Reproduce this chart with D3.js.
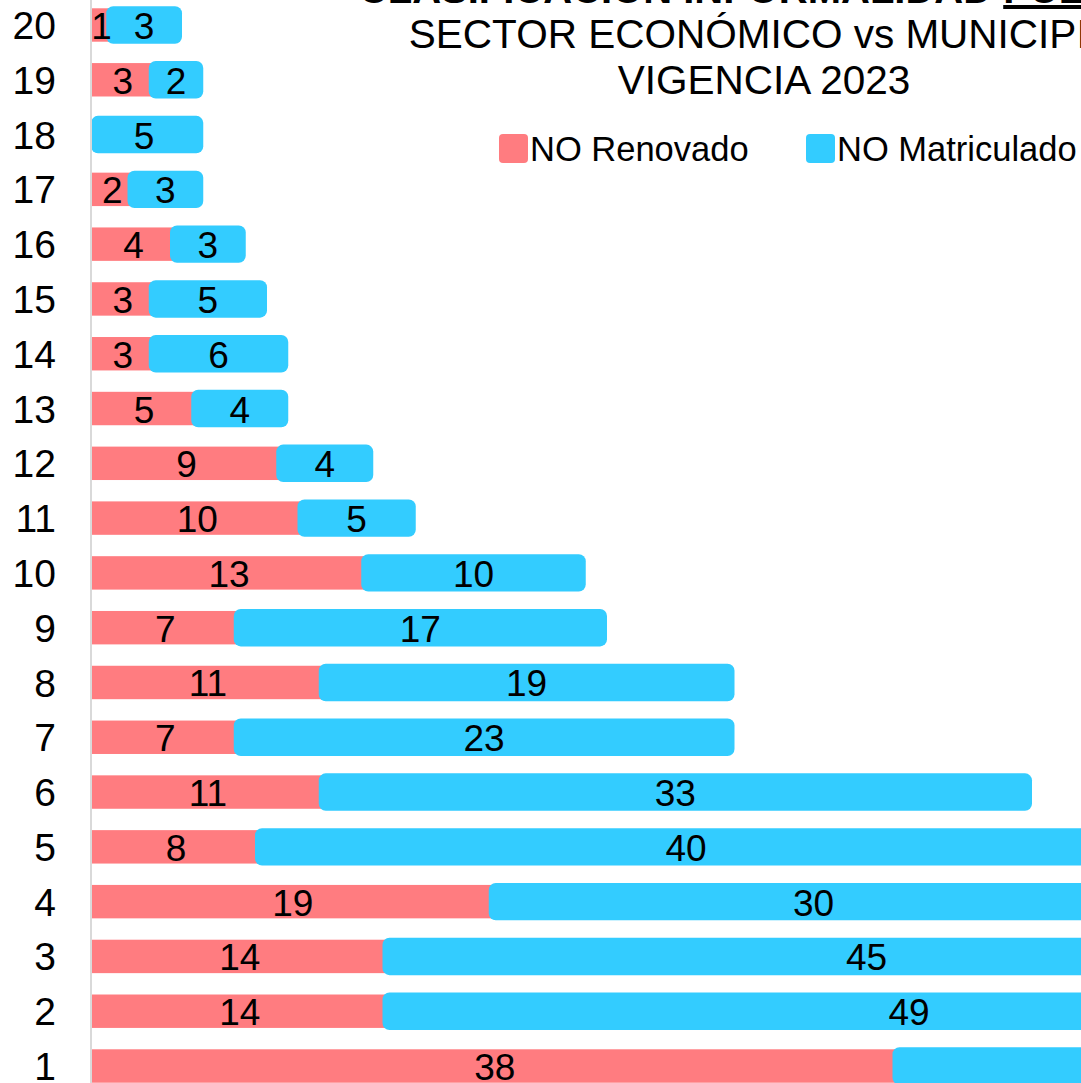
<!DOCTYPE html>
<html>
<head>
<meta charset="utf-8">
<script src="https://cdn.jsdelivr.net/npm/d3@7"></script>
<style>
  body { margin: 0; background: #ffffff; overflow: hidden; }
  svg { display: block; }
</style>
</head>
<body>
<div id="chart"></div>
<script>
// Data
var categories = ["20","19","18","17","16","15","14","13","12","11","10","9","8","7","6","5","4","3","2","1"];
var noRenovado = [1, 3, 0, 2, 4, 3, 3, 5, 9, 10, 13, 7, 11, 7, 11, 8, 19, 14, 14, 38];
var noMatriculado = [3, 2, 5, 3, 3, 5, 6, 4, 4, 5, 10, 17, 19, 23, 33, 40, 30, 45, 49, 30];
var seriesNames = ["NO Renovado", "NO Matriculado"];
var titleLines = ["CLASIFICACIÓN INFORMALIDAD ", "SECTOR ECONÓMICO vs MUNICIPIO", "VIGENCIA 2023"];
var titleUnderlined = "PUERTO";

var colors = { red: '#ff7c80', blue: '#33ccff' };
var FONT = 'Liberation Sans, Arial, sans-serif';

var W = 1081, H = 1083;
var svg = d3.select('#chart').append('svg').attr('width', W).attr('height', H);

var rows = categories.map(function(c, i) {
    return { cat: c, r: noRenovado[i], b: noMatriculado[i] };
});

//------------------------------- SCALES ------------------------------------
var x = d3.scaleLinear().domain([0, 50]).range([91, 91 + 50 * 21.25]);
var y = d3.scaleBand().domain(categories).range([-2.4, 1093.4])
    .paddingInner(0.39).paddingOuter(0.195);

// -------------------- red bars --------------------------
svg.selectAll('rect.red').data(rows).enter()
    .append('rect').attr('class', 'red')
    .attr('x', x(0))
    .attr('y', d => y(d.cat))
    .attr('width', d => x(d.r) - x(0))
    .attr('height', y.bandwidth())
    .style('fill', colors.red);

// -------------------- blue bars (rounded) --------------------------
function blueStart(d) { return d.r > 0 ? x(d.r) - 6 : x(0); }
svg.selectAll('rect.blue').data(rows).enter()
    .append('rect').attr('class', 'blue')
    .attr('x', d => blueStart(d))
    .attr('y', d => y(d.cat) - 2)
    .attr('width', d => x(d.r + d.b) + 6 - blueStart(d))
    .attr('height', y.bandwidth() + 4)
    .attr('rx', 7)
    .style('fill', colors.blue);

// axis
var axis = svg.append('g').attr('transform', 'translate(' + x(0) + ',0)')
    .call(d3.axisLeft(y).tickSize(0).tickPadding(35));
axis.select('.domain').attr('stroke', '#d9d9d9').attr('stroke-width', 2)
    .attr('d', 'M0,0V' + H);
axis.selectAll('text').style('font-family', FONT)
    .style('font-size', '39px').attr('fill', '#000').attr('dy', '0.36em');

// value labels
svg.selectAll('text.lr').data(rows.filter(d => d.r > 0)).enter()
    .append('text').attr('class', 'lr')
    .attr('x', d => (x(0) + x(d.r)) / 2)
    .attr('y', d => y(d.cat) + y.bandwidth() / 2 + 14)
    .attr('text-anchor', 'middle')
    .style('font-family', FONT).style('font-size', '37px')
    .text(d => d.r);
svg.selectAll('text.lb').data(rows).enter()
    .append('text').attr('class', 'lb')
    .attr('x', d => (x(d.r) + x(d.r + d.b)) / 2)
    .attr('y', d => y(d.cat) + y.bandwidth() / 2 + 14)
    .attr('text-anchor', 'middle')
    .style('font-family', FONT).style('font-size', '37px')
    .text(d => d.b);

// -------------------- title --------------------------
var tcx = 764;
var t1 = svg.append('text').attr('x', tcx).attr('y', 3).attr('text-anchor', 'middle')
    .style('font-family', FONT).style('font-size', '40px')
    .style('font-weight', 'bold');
t1.append('tspan').text(titleLines[0]);
t1.append('tspan').style('text-decoration', 'underline').text(titleUnderlined);
svg.selectAll('text.title').data(titleLines.slice(1)).enter()
    .append('text').attr('class', 'title')
    .attr('x', tcx).attr('y', (d, i) => 48 + i * 46)
    .attr('text-anchor', 'middle')
    .style('font-family', FONT).style('font-size', '40.5px')
    .text(d => d);

// -------------------- legend --------------------------
var legX = [499, 806];
var leg = svg.selectAll('g.leg').data(seriesNames).enter()
    .append('g').attr('class', 'leg')
    .attr('transform', (d, i) => 'translate(' + legX[i] + ',134)');
leg.append('rect').attr('width', 29).attr('height', 29).attr('rx', 4)
    .style('fill', (d, i) => i === 0 ? colors.red : colors.blue);
leg.append('text').attr('x', 31).attr('y', 27)
    .style('font-family', FONT).style('font-size', '34.5px')
    .text(d => d);
</script>
</body>
</html>
